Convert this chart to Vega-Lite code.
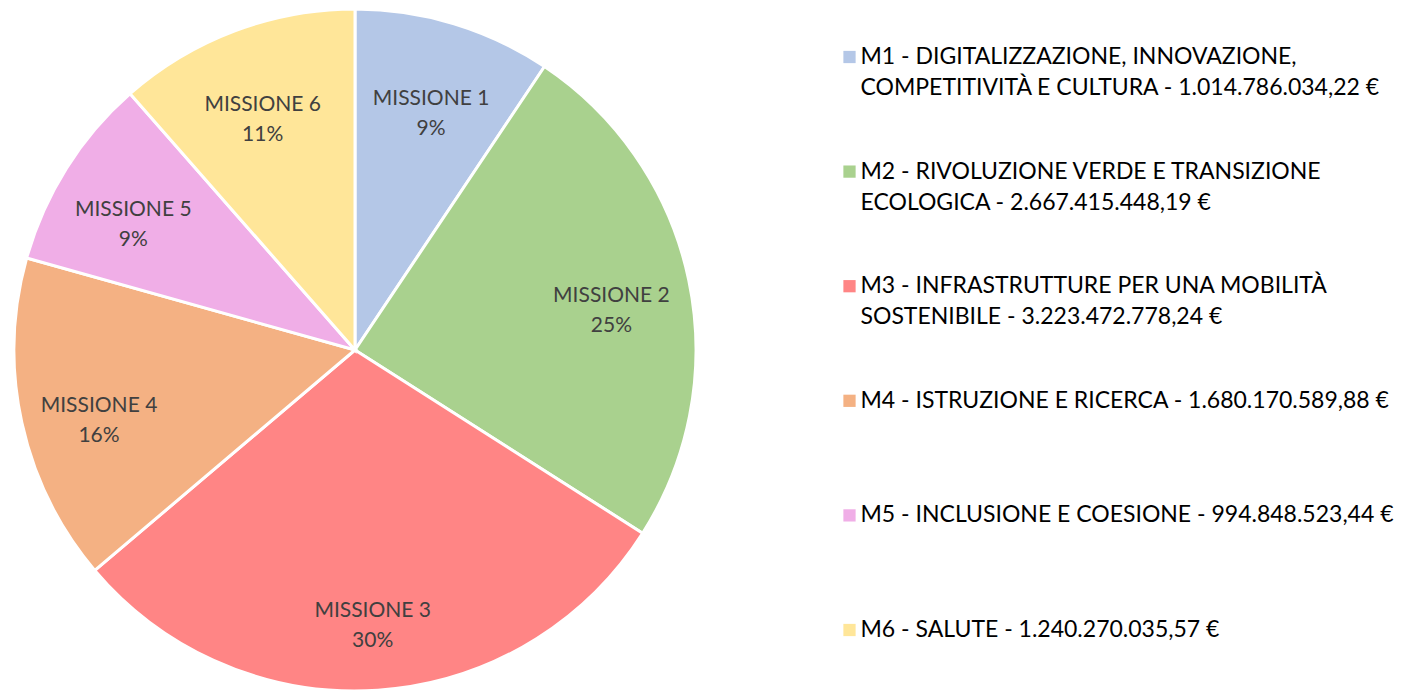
{
  "$schema": "https://vega.github.io/schema/vega-lite/v6.json",
  "padding": {"top": 3, "left": 0, "right": 0, "bottom": 0},
  "autosize": {"type": "pad"},
  "background": "white",
  "config": {"view": {"stroke": null}, "font": "Lato"},
  "data": {
    "values": [
      {"m": "M1", "value": 1014786034.22, "lbl": "MISSIONE 1\n9%", "l1": "M1 - DIGITALIZZAZIONE, INNOVAZIONE,", "l2": "COMPETITIVITÀ E CULTURA - 1.014.786.034,22 €"},
      {"m": "M2", "value": 2667415448.19, "lbl": "MISSIONE 2\n25%", "l1": "M2 - RIVOLUZIONE VERDE E TRANSIZIONE", "l2": "ECOLOGICA - 2.667.415.448,19 €"},
      {"m": "M3", "value": 3223472778.24, "lbl": "MISSIONE 3\n30%", "l1": "M3 - INFRASTRUTTURE PER UNA MOBILITÀ", "l2": "SOSTENIBILE - 3.223.472.778,24 €"},
      {"m": "M4", "value": 1680170589.88, "lbl": "MISSIONE 4\n16%", "l1": "M4 - ISTRUZIONE E RICERCA - 1.680.170.589,88 €", "l2": ""},
      {"m": "M5", "value": 994848523.44, "lbl": "MISSIONE 5\n9%", "l1": "M5 - INCLUSIONE E COESIONE - 994.848.523,44 €", "l2": ""},
      {"m": "M6", "value": 1240270035.57, "lbl": "MISSIONE 6\n11%", "l1": "M6 - SALUTE - 1.240.270.035,57 €", "l2": ""}
    ]
  },
  "spacing": 133,
  "hconcat": [
    {
      "width": 710,
      "height": 680,
      "layer": [
        {
          "mark": {"type": "arc", "outerRadius": 341, "stroke": "white", "strokeWidth": 3},
          "encoding": {
            "theta": {"field": "value", "type": "quantitative", "stack": true},
            "color": {"field": "m", "type": "nominal", "legend": null,
              "scale": {"domain": ["M1", "M2", "M3", "M4", "M5", "M6"],
                        "range": ["#B4C7E7", "#A9D18E", "#FF8585", "#F4B183", "#F0AEE7", "#FFE699"]}},
            "order": {"field": "m"}
          }
        },
        {
          "mark": {"type": "text", "radius": 262, "fontSize": 21, "lineBreak": "\n", "lineHeight": 30, "color": "#404040", "baseline": "middle", "align": "center"},
          "encoding": {
            "theta": {"field": "value", "type": "quantitative", "stack": true},
            "text": {"field": "lbl"},
            "order": {"field": "m"}
          }
        }
      ]
    },
    {
      "width": 1,
      "height": 680,
      "layer": [
        {
          "mark": {"type": "square", "size": 150, "opacity": 1, "filled": true},
          "encoding": {
            "y": {"field": "m", "type": "ordinal", "axis": null, "scale": {"type": "point", "padding": 0, "range": [47, 620]}},
            "color": {"field": "m", "type": "nominal", "legend": null,
              "scale": {"domain": ["M1", "M2", "M3", "M4", "M5", "M6"],
                        "range": ["#B4C7E7", "#A9D18E", "#FF8585", "#F4B183", "#F0AEE7", "#FFE699"]}}
          }
        },
        {
          "mark": {"type": "text", "align": "left", "baseline": "middle", "dx": 11, "fontSize": 23, "color": "#000000"},
          "encoding": {
            "y": {"field": "m", "type": "ordinal", "axis": null, "scale": {"type": "point", "padding": 0, "range": [47, 620]}},
            "text": {"field": "l1"}
          }
        },
        {
          "mark": {"type": "text", "align": "left", "baseline": "middle", "dx": 11, "dy": 31, "fontSize": 23, "color": "#000000"},
          "encoding": {
            "y": {"field": "m", "type": "ordinal", "axis": null, "scale": {"type": "point", "padding": 0, "range": [47, 620]}},
            "text": {"field": "l2"}
          }
        }
      ]
    }
  ]
}
